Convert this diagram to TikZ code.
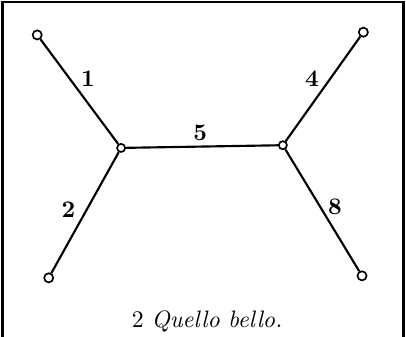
\documentclass[tikz,border=0pt]{standalone}
\usepackage{tikz}
\usetikzlibrary{positioning,calc}

\tikzset{
    leaf/.style={circle, draw, fill=white, line width=0.7pt, inner sep=0pt, minimum size=1.35mm},
    fork/.style={circle, draw, fill=white, line width=0.7pt, inner sep=0pt, minimum size=1.2mm},
    branch/.style={line width=0.9pt},
    edgenum/.style={font=\bfseries}
}

\begin{document}
\begin{tikzpicture}
    \useasboundingbox (0,0) rectangle (60mm, 49.66mm);
    \draw[line width=1.1pt] (0.35mm, -1mm) rectangle (59.65mm, 49.35mm);
    % tree
    \node[fork] (u) at (17.9mm, 27.8mm) {};
    \node[fork] (v) at (41.8mm, 28.2mm) {};
    \node[leaf] (a) at (5.5mm, 44.5mm) {};
    \node[leaf] (b) at (7.2mm, 8.6mm) {};
    \node[leaf] (c) at (53.7mm, 44.9mm) {};
    \node[leaf] (d) at (53.5mm, 8.9mm) {};
    \draw[branch] (a) -- (u);
    \draw[branch] (b) -- (u);
    \draw[branch] (u) -- (v);
    \draw[branch] (c) -- (v);
    \draw[branch] (d) -- (v);
    % branch numbers
    \node[edgenum] (n1) at (13.0mm, 38.1mm) {1};
    \node[edgenum] (n2) at (10.1mm, 18.6mm) {2};
    \node[edgenum] (n5) at (29.6mm, 30.0mm) {5};
    \node[edgenum] (n4) at (46.1mm, 38.1mm) {4};
    \node[edgenum] (n8) at (49.5mm, 19.1mm) {8};
    \node (caption) at (30.6mm, 2.1mm) {2 \textit{Quello bello.}};
\end{tikzpicture}
\end{document}
